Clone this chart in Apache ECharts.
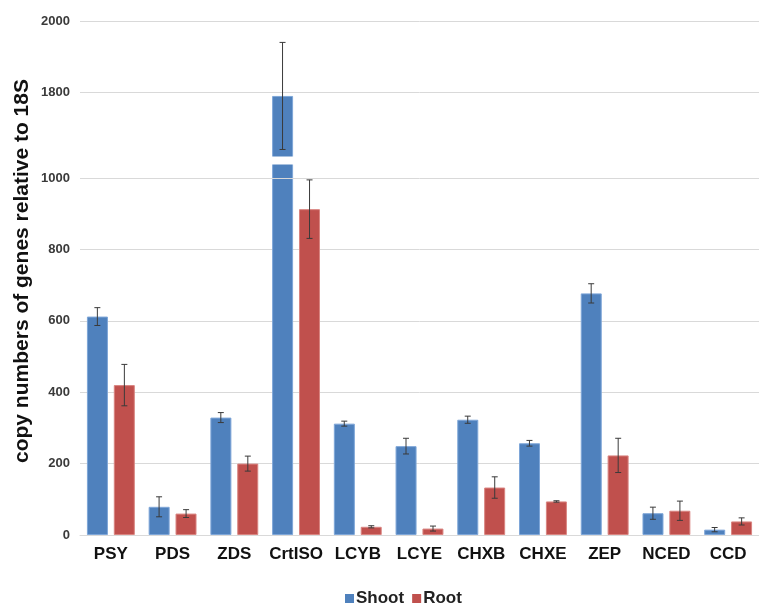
<!DOCTYPE html>
<html>
<head>
<meta charset="utf-8">
<script src="https://cdn.jsdelivr.net/npm/echarts@6/dist/echarts.min.js"></script>
<style>
  html, body { margin: 0; padding: 0; background: #fff; }
  #chart { width: 759px; height: 603px; }
</style>
</head>
<body>
<div id="chart"></div>
<script>
// Carotenoid pathway genes
const genes = ['PSY', 'PDS', 'ZDS', 'CrtISO', 'LCYB', 'LCYE', 'CHXB', 'CHXE', 'ZEP', 'NCED', 'CCD'];

// Copy numbers relative to 18S (mean) and error (± SD)
const shoot    = [612, 79, 329, 1790, 312, 249, 323, 257, 677, 61, 15];
const shootErr = [25, 28, 14, 150, 7, 22, 10, 8, 27, 17, 6];
const root     = [420, 60, 200, 913, 23, 18, 133, 94, 223, 68, 38];
const rootErr  = [58, 11, 21, 82, 3, 7, 30, 2, 48, 27, 10];

// Y axis tick labels that are shown (values between 1000 and 1800 are cut out)
const yTicks = [0, 200, 400, 600, 800, 1000, 1800, 2000];
// Tick next to the axis break, drawn as its own line
const edgeTick = 1000;

const BLUE = '#4f81bd';
const RED = '#c0504d';
const GRID = '#d9d9d9';
const FONT = 'Liberation Sans, Arial, sans-serif';
const BAR_W = 21;
const BAR_OFFSET = 13.5;
const yLabelStyle = { fontFamily: FONT, fontSize: 13, fontWeight: 'bold', color: '#3a3a3a' };

function errorSeries(name, values, errs, offset) {
  return {
    name: name + ' error',
    type: 'custom',
    z: 20,
    silent: true,
    data: values.map((v, i) => [i, v, errs[i]]),
    renderItem: function (params, api) {
      const i = api.value(0), v = api.value(1), e = api.value(2);
      const top = api.coord([i, v + e]);
      const bot = api.coord([i, v - e]);
      const x = top[0] + offset;
      const cap = 3;
      const style = { stroke: '#3a3a3a', lineWidth: 1 };
      return {
        type: 'group',
        children: [
          { type: 'line', shape: { x1: x, y1: top[1], x2: x, y2: bot[1] }, style: style },
          { type: 'line', shape: { x1: x - cap, y1: top[1], x2: x + cap, y2: top[1] }, style: style },
          { type: 'line', shape: { x1: x - cap, y1: bot[1], x2: x + cap, y2: bot[1] }, style: style }
        ]
      };
    }
  };
}

const chart = echarts.init(document.getElementById('chart'), null, { renderer: 'canvas' });
chart.setOption({
  animation: false,
  backgroundColor: '#fff',
  grid: { left: 80, top: 21, width: 686, bottom: 68, containLabel: false },
  legend: {
    data: ['Shoot', 'Root'],
    top: 585,
    left: 340,
    itemWidth: 9,
    itemHeight: 9,
    itemGap: 8,
    icon: 'rect',
    itemStyle: { borderWidth: 0 },
    textStyle: { fontFamily: FONT, fontSize: 17, fontWeight: 'bold', color: '#222', padding: [0, 0, 0, -3] }
  },
  xAxis: {
    type: 'category',
    data: genes,
    axisLine: { show: true, lineStyle: { color: GRID, width: 1 } },
    axisTick: { show: false },
    axisLabel: { interval: 0, fontFamily: FONT, fontSize: 17, fontWeight: 'bold', color: '#111', margin: 11 }
  },
  yAxis: {
    type: 'value',
    min: 0,
    max: 2000,
    interval: 200,
    name: 'copy numbers of genes relative to 18S',
    nameLocation: 'middle',
    nameGap: 47,
    nameMoveOverlap: false,
    nameTextStyle: { fontFamily: FONT, fontSize: 21, fontWeight: 'bold', color: '#111', padding: [0, 0, 0, 14] },
    breaks: [{ start: 1040, end: 1620, gap: '1.4%' }],
    breakArea: {
      show: true,
      expandOnClick: false,
      zigzagAmplitude: 0,
      zigzagZ: 200,
      itemStyle: { color: '#fff', borderColor: '#fff', borderWidth: 0, opacity: 1 }
    },
    axisLine: { show: false },
    axisTick: { show: false },
    splitLine: { show: true, lineStyle: { color: GRID, width: 1 } },
    axisLabel: Object.assign({ margin: 10 }, yLabelStyle, {
      formatter: function (v) { return yTicks.indexOf(v) >= 0 ? String(v) : ''; }
    })
  },
  series: [
    {
      // gridline and label for the tick just below the break, kept under the bars
      name: 'edge tick',
      type: 'line',
      data: [],
      z: 0,
      silent: true,
      markLine: {
        silent: true,
        symbol: 'none',
        lineStyle: { color: GRID, width: 1, type: 'solid' },
        label: Object.assign({ position: 'start', distance: 10, formatter: String(edgeTick) }, yLabelStyle),
        data: [{ yAxis: edgeTick }]
      }
    },
    {
      name: 'Shoot', type: 'bar', data: shoot, barWidth: BAR_W, barGap: '28%',
      itemStyle: { color: BLUE, borderColor: '#7ea6d8', borderWidth: 1 }
    },
    {
      name: 'Root', type: 'bar', data: root, barWidth: BAR_W,
      itemStyle: { color: RED, borderColor: '#d98480', borderWidth: 1 }
    },
    errorSeries('Shoot', shoot, shootErr, -BAR_OFFSET),
    errorSeries('Root', root, rootErr, BAR_OFFSET)
  ]
});
</script>
</body>
</html>
